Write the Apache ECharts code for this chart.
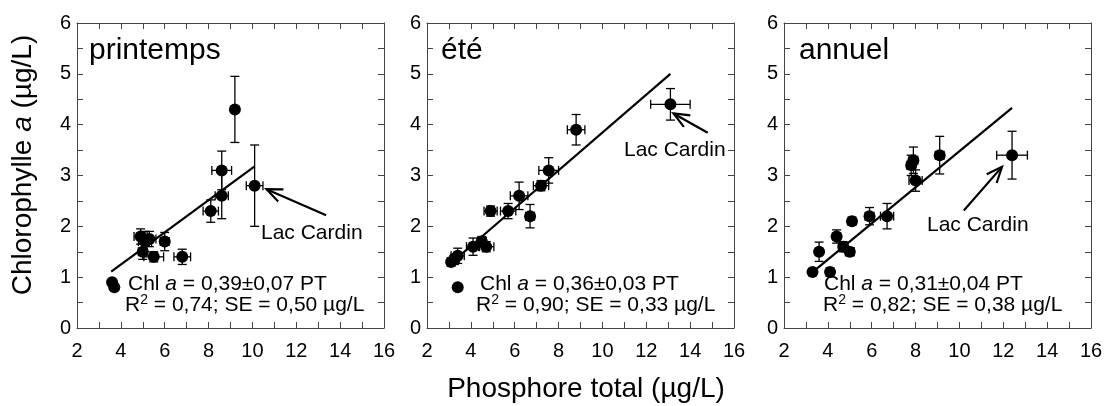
<!DOCTYPE html>
<html>
<head>
<meta charset="utf-8">
<script src="https://cdn.jsdelivr.net/npm/echarts@6/dist/echarts.min.js"></script>
<style>html,body{margin:0;padding:0;background:#fff}#c{width:1105px;height:406px}</style>
</head>
<body>
<div id="c"></div>
<script>
// ---------------- data ----------------
const panelTitles = ['printemps', 'été', 'annuel'];
const xTickLabels = [2, 4, 6, 8, 10, 12, 14, 16];
const yTickLabels = [0, 1, 2, 3, 4, 5, 6];

const springX    = [9.2, 8.6, 8.6, 8.1, 10.1, 4.9, 5.1, 5.3, 5.0, 5.5, 6.0, 6.8, 3.6, 3.7];
const springY    = [4.3, 3.1, 2.6, 2.3, 2.8, 1.8, 1.7, 1.75, 1.5, 1.4, 1.7, 1.4, 0.9, 0.8];
const springXErr = [0, 0.45, 0.3, 0.35, 0.38, 0.3, 0.3, 0.3, 0.2, 0.45, 0.2, 0.38, 0, 0];
const springYErr = [0.65, 0.38, 0.45, 0.22, 0.8, 0.15, 0.2, 0.15, 0.15, 0.1, 0.18, 0.15, 0, 0];

const summerX    = [3.1, 3.25, 3.4, 4.1, 4.5, 4.7, 4.9, 5.7, 6.2, 6.7, 7.2, 7.55, 8.8, 13.1, 3.4];
const summerY    = [1.3, 1.35, 1.42, 1.6, 1.7, 1.6, 2.3, 2.3, 2.6, 2.2, 2.8, 3.1, 3.9, 4.4, 0.8];
const summerXErr = [0.15, 0.2, 0.3, 0.3, 0.2, 0.35, 0.3, 0.35, 0.4, 0.2, 0.35, 0.45, 0.4, 0.9, 0];
const summerYErr = [0.08, 0.1, 0.15, 0.17, 0.1, 0.1, 0.1, 0.15, 0.27, 0.23, 0.1, 0.25, 0.3, 0.31, 0];

const annualX    = [3.3, 3.6, 4.1, 4.4, 4.7, 5.0, 5.1, 5.9, 6.7, 7.8, 7.9, 8.0, 9.1, 12.4];
const annualY    = [1.1, 1.5, 1.1, 1.8, 1.6, 1.5, 2.1, 2.2, 2.2, 3.2, 3.3, 2.9, 3.4, 3.4];
const annualXErr = [0.1, 0.15, 0.15, 0.15, 0.2, 0.2, 0.15, 0.2, 0.3, 0.2, 0.2, 0.3, 0.2, 0.7];
const annualYErr = [0.05, 0.19, 0.08, 0.13, 0.1, 0.08, 0.08, 0.17, 0.25, 0.2, 0.26, 0.21, 0.37, 0.47];

// regression lines (start, end) as drawn
const springFit = [[3.56, 1.11], [10.1, 3.18]];
const summerFit = [[3.0, 1.24], [13.1, 5.0]];
const annualFit = [[3.33, 1.11], [12.4, 4.33]];

// "Lac Cardin" arrows: [tailX, tailY, headX, headY]
const springArrow = [13.36, 2.22, 10.64, 2.73];
const summerArrow = [14.8, 3.84, 13.24, 4.22];
const annualArrow = [10.2, 2.31, 11.94, 3.17];

const eqLine1 = ['0,39±0,07 PT', '0,36±0,03 PT', '0,31±0,04 PT'];
const eqLine2 = ['= 0,74; SE = 0,50 µg/L', '= 0,90; SE = 0,33 µg/L', '= 0,82; SE = 0,38 µg/L'];
const calloutLabel = 'Lac Cardin';
const xTitle = 'Phosphore total (µg/L)';

// ---------------- layout ----------------
const FONT = '"Liberation Sans", Arial, Helvetica, sans-serif';
const AX = '#444';
const gridLeft = [77, 427, 784];
const gridTop = 23, gridW = 307, gridH = 305;

const panels = [
  {x: springX, y: springY, xe: springXErr, ye: springYErr, fit: springFit, arrow: springArrow},
  {x: summerX, y: summerY, xe: summerXErr, ye: summerYErr, fit: summerFit, arrow: summerArrow},
  {x: annualX, y: annualY, xe: annualXErr, ye: annualYErr, fit: annualFit, arrow: annualArrow}
];

function errRender(params, api) {
  const x = api.value(0), y = api.value(1), xe = api.value(2), ye = api.value(3);
  const c = api.coord([x, y]);
  const st = {stroke: '#000', lineWidth: 1.3};
  const cap = 4.5;
  const ch = [];
  if (ye > 0) {
    const t = api.coord([x, y + ye]), b = api.coord([x, y - ye]);
    ch.push({type: 'line', shape: {x1: c[0], y1: t[1], x2: c[0], y2: b[1]}, style: st});
    ch.push({type: 'line', shape: {x1: c[0] - cap, y1: t[1], x2: c[0] + cap, y2: t[1]}, style: st});
    ch.push({type: 'line', shape: {x1: c[0] - cap, y1: b[1], x2: c[0] + cap, y2: b[1]}, style: st});
  }
  if (xe > 0) {
    const l = api.coord([x - xe, y]), r = api.coord([x + xe, y]);
    ch.push({type: 'line', shape: {x1: l[0], y1: c[1], x2: r[0], y2: c[1]}, style: st});
    ch.push({type: 'line', shape: {x1: l[0], y1: c[1] - cap, x2: l[0], y2: c[1] + cap}, style: st});
    ch.push({type: 'line', shape: {x1: r[0], y1: c[1] - cap, x2: r[0], y2: c[1] + cap}, style: st});
  }
  return {type: 'group', children: ch};
}

function arrowRender(params, api) {
  const t = api.coord([api.value(0), api.value(1)]);
  const h = api.coord([api.value(2), api.value(3)]);
  const dx = t[0] - h[0], dy = t[1] - h[1];
  const L = Math.sqrt(dx * dx + dy * dy);
  const ux = dx / L, uy = dy / L;
  const len = 17, a = 0.4;
  const ca = Math.cos(a), sa = Math.sin(a);
  const p1 = [h[0] + len * (ux * ca - uy * sa), h[1] + len * (ux * sa + uy * ca)];
  const p2 = [h[0] + len * (ux * ca + uy * sa), h[1] + len * (-ux * sa + uy * ca)];
  const st = {stroke: '#000', lineWidth: 2.2, fill: null};
  return {type: 'group', children: [
    {type: 'line', shape: {x1: t[0], y1: t[1], x2: h[0], y2: h[1]}, style: st},
    {type: 'polyline', shape: {points: [p1, h, p2]}, style: st}
  ]};
}

const grids = [], xAxes = [], yAxes = [], series = [];
const tickCommon = {show: true, inside: true, length: 6, lineStyle: {color: AX, width: 1}};
const minorCommon = {show: true, splitNumber: 2, length: 6, lineStyle: {color: AX, width: 1}};
panels.forEach((p, i) => {
  grids.push({left: gridLeft[i], top: gridTop, width: gridW, height: gridH, containLabel: false, outerBoundsMode: 'none'});
  ['bottom', 'top'].forEach((pos, k) => {
    xAxes.push({
      type: 'value', gridIndex: i, position: pos, min: xTickLabels[0], max: xTickLabels[xTickLabels.length - 1], interval: 2,
      axisLine: {show: true, onZero: false, lineStyle: {color: AX, width: 1}},
      axisTick: tickCommon, minorTick: minorCommon, splitLine: {show: false},
      axisLabel: {show: k === 0, fontSize: 20, color: '#000', fontFamily: FONT, margin: 13, showMinLabel: true, showMaxLabel: true, hideOverlap: false}
    });
  });
  ['left', 'right'].forEach((pos, k) => {
    yAxes.push({
      type: 'value', gridIndex: i, position: pos, min: yTickLabels[0], max: yTickLabels[yTickLabels.length - 1], interval: 1,
      axisLine: {show: true, onZero: false, lineStyle: {color: AX, width: 1}},
      axisTick: tickCommon, minorTick: minorCommon, splitLine: {show: false},
      axisLabel: {show: k === 0, fontSize: 20, color: '#000', fontFamily: FONT, margin: 6, showMinLabel: true, showMaxLabel: true, hideOverlap: false}
    });
  });
  const xi = 2 * i, yi = 2 * i;
  series.push({type: 'line', xAxisIndex: xi, yAxisIndex: yi, data: p.fit, symbol: 'none', silent: true,
    lineStyle: {color: '#000', width: 2.2}, z: 2});
  series.push({type: 'custom', xAxisIndex: xi, yAxisIndex: yi, renderItem: errRender, z: 3,
    encode: {x: 0, y: 1}, data: p.x.map((v, j) => [v, p.y[j], p.xe[j], p.ye[j]])});
  series.push({type: 'scatter', xAxisIndex: xi, yAxisIndex: yi, symbol: 'circle', symbolSize: 12, z: 4,
    itemStyle: {color: '#000', opacity: 1}, data: p.x.map((v, j) => [v, p.y[j]])});
  series.push({type: 'custom', xAxisIndex: xi, yAxisIndex: yi, renderItem: arrowRender, z: 5,
    encode: {x: [0, 2], y: [1, 3]}, data: [p.arrow]});
});

// texts
const graphics = [];
const titleX = [89, 441, 799];
const eqX1 = [128, 480, 824], eqX2 = [125, 476, 823];
const calloutPos = [[261, 240], [624, 157], [927, 232]];
const richStyle = {
  n: {fontSize: 21, fontFamily: FONT, fill: '#000', color: '#000', lineHeight: 23},
  i: {fontSize: 21, fontFamily: FONT, fontStyle: 'italic', fill: '#000', color: '#000', lineHeight: 23},
  s: {fontSize: 14, fontFamily: FONT, fill: '#000', color: '#000', verticalAlign: 'top', lineHeight: 23}
};
panels.forEach((p, i) => {
  graphics.push({type: 'text', x: titleX[i], y: 66, style: {
    text: panelTitles[i], fontSize: 30, fontFamily: FONT, fill: '#000', verticalAlign: 'bottom', align: 'left'}});
  graphics.push({type: 'text', x: eqX1[i], y: 284, style: {
    text: '{n|Chl }{i|a}{n| = ' + eqLine1[i] + '}', rich: richStyle, verticalAlign: 'middle', align: 'left'}});
  graphics.push({type: 'text', x: eqX2[i], y: 305, style: {
    text: '{n|R}{s|2}{n| ' + eqLine2[i] + '}', rich: richStyle, verticalAlign: 'middle', align: 'left'}});
  graphics.push({type: 'text', x: calloutPos[i][0], y: calloutPos[i][1] + 4, style: {
    text: calloutLabel, fontSize: 21, fontFamily: FONT, fill: '#000', verticalAlign: 'bottom', align: 'left'}});
});
graphics.push({type: 'text', x: 586, y: 389, style: {
  text: xTitle, fontSize: 28, fontFamily: FONT, fill: '#000', verticalAlign: 'middle', align: 'center'}});
graphics.push({type: 'text', x: 23, y: 165, rotation: Math.PI / 2, style: {
  text: '{n|Chlorophylle }{i|a}{n| (µg/L)}', verticalAlign: 'middle', align: 'center',
  rich: {
    n: {fontSize: 28, fontFamily: FONT, fill: '#000', color: '#000'},
    i: {fontSize: 28, fontFamily: FONT, fontStyle: 'italic', fill: '#000', color: '#000'}
  }}});

const chart = echarts.init(document.getElementById('c'), null, {renderer: 'canvas'});
chart.setOption({
  animation: false,
  backgroundColor: '#fff',
  grid: grids, xAxis: xAxes, yAxis: yAxes, series: series, graphic: {elements: graphics}
});
</script>
</body>
</html>
